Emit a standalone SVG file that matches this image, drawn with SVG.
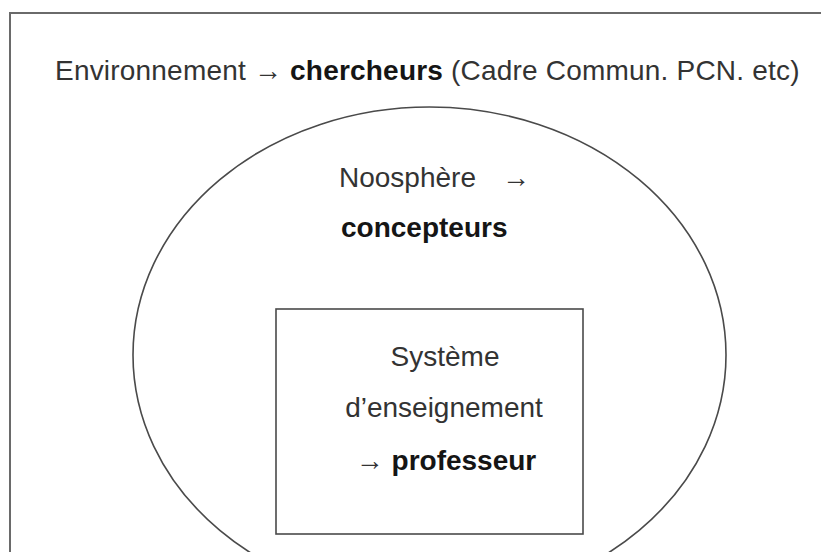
<svg xmlns="http://www.w3.org/2000/svg" width="821" height="552" viewBox="0 0 821 552">
  <style>
    .shape { fill: none; stroke: #4a4a4a; stroke-width: 1.6; }
    .frame { fill: none; stroke: #6a6a6a; stroke-width: 2; }
    text { font-family: "Liberation Sans", Arial, sans-serif; font-size: 28px; fill: #333; }
    .b { font-weight: bold; fill: #151515; }
  </style>
  <rect width="821" height="552" fill="#ffffff"/>
  <g id="environnement">
    <rect class="frame" x="10" y="13" width="830" height="560"/>
    <text x="55" y="80" letter-spacing="0.2">Environnement → <tspan class="b">chercheurs</tspan> (Cadre Commun. PCN. etc)</text>
  </g>
  <g id="noosphere">
    <ellipse class="shape" cx="429.5" cy="355" rx="296.5" ry="248"/>
    <text x="339" y="187">Noosphère<tspan x="502">→</tspan></text>
    <text class="b" x="341" y="237">concepteurs</text>
  </g>
  <g id="systeme-enseignement">
    <rect class="shape" x="276" y="309" width="307" height="225"/>
    <text x="445" y="366" text-anchor="middle">Système</text>
    <text x="444" y="417" text-anchor="middle">d’enseignement</text>
    <text x="446" y="470" text-anchor="middle">→ <tspan class="b">professeur</tspan></text>
  </g>
</svg>
